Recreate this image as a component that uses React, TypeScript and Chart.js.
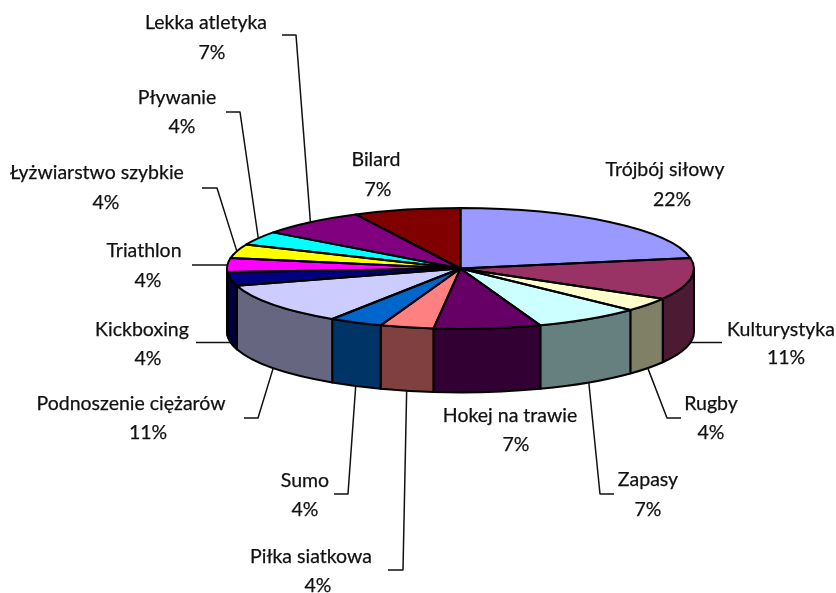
import React, { useEffect, useRef } from "react";
import { Chart, registerables } from "chart.js";

Chart.register(...registerables);

const categories = ["Trójbój siłowy", "Kulturystyka", "Rugby", "Zapasy", "Hokej na trawie", "Piłka siatkowa", "Sumo", "Podnoszenie ciężarów", "Kickboxing", "Triathlon", "Łyżwiarstwo szybkie", "Pływanie", "Lekka atletyka", "Bilard"];
const counts = [6, 3, 1, 2, 2, 1, 1, 3, 1, 1, 1, 1, 2, 2];
const percentLabels = ["22%", "11%", "4%", "7%", "7%", "4%", "4%", "11%", "4%", "4%", "4%", "4%", "7%", "7%"];
const topColors = ["#9999FF", "#993366", "#FFFFCC", "#CCFFFF", "#660066", "#FF8080", "#0066CC", "#CCCCFF", "#000080", "#FF00FF", "#FFFF00", "#00FFFF", "#800080", "#800000"];
const wallColors = ["#4D4D80", "#4D1A33", "#808066", "#668080", "#330033", "#804040", "#003366", "#666680", "#000040", "#000040", "#808000", "#008080", "#400040", "#400000"];

// Label placement: [name centre x, name y, percent centre x, percent y]
const labelPlaces = [
  [665, 170, 672, 200], [781, 330, 786, 358], [711, 404, 711, 433], [648, 480, 648, 510],
  [510, 416, 516, 445], [311, 557, 318, 586], [305, 481, 305, 510], [131, 404, 148, 433],
  [142, 330, 148, 359], [144, 251, 148, 281], [97, 173, 106, 203], [177, 98, 182, 127],
  [206, 23, 212, 53], [376, 160, 378, 190],
];
// Leader routing: list of bend points after the slice anchor, null when there is none
const leaderBends: (number[][] | null)[] = [
  null, [[722, 342.5]], [[667, 418], [681, 418]], [[600, 494], [614, 494]],
  null, [[403, 570], [388, 570]], [[348, 494], [334, 494]], [[258, 418], [244, 418]],
  [[196, 342.5]], [[192, 265]], [[217, 188], [202, 188]], [[240, 112], [226, 112]],
  [[296, 35], [282, 35]], null,
];

const CX = 460.5, CY = 268.5, RX = 233.5, RY = 60.5, DEPTH = 63.5;
const FONT = '19.5px Lato, "Open Sans", sans-serif';
const OUTLINE = 2;

const pie3d = {
  id: "pie3d",
  beforeDatasetsDraw(chart: any) {
    const ctx = chart.ctx;
    const arcs = chart.getDatasetMeta(0).data;
    const scale = RY / RX;
    ctx.save();
    ctx.lineWidth = OUTLINE;
    ctx.strokeStyle = "#000";
    ctx.lineJoin = "round";
    // side walls, only the part on the front half
    arcs.forEach((a: any, i: number) => {
      const s = Math.max(a.startAngle, 0);
      const e = Math.min(a.endAngle, Math.PI);
      if (e <= s) return;
      ctx.beginPath();
      ctx.ellipse(a.x, CY, a.outerRadius, a.outerRadius * scale, 0, s, e);
      ctx.ellipse(a.x, CY + DEPTH, a.outerRadius, a.outerRadius * scale, 0, e, s, true);
      ctx.closePath();
      ctx.fillStyle = wallColors[i];
      ctx.fill();
      ctx.stroke();
    });
    ctx.restore();
    // squash the library's own arcs into the tilted disc
    ctx.save();
    ctx.translate(0, CY);
    ctx.scale(1, scale);
    ctx.translate(0, -arcs[0].y);
  },
  afterDatasetsDraw(chart: any) {
    const ctx = chart.ctx;
    ctx.restore();
    const arcs = chart.getDatasetMeta(0).data;
    const scale = RY / RX;
    ctx.save();
    ctx.lineWidth = OUTLINE;
    ctx.strokeStyle = "#000";
    ctx.lineJoin = "round";
    arcs.forEach((a: any) => {
      ctx.beginPath();
      ctx.moveTo(a.x, CY);
      ctx.ellipse(a.x, CY, a.outerRadius, a.outerRadius * scale, 0, a.startAngle, a.endAngle);
      ctx.closePath();
      ctx.stroke();
    });
    // leaders
    ctx.lineWidth = 1.5;
    ctx.strokeStyle = "#111";
    arcs.forEach((a: any, i: number) => {
      const bends = leaderBends[i];
      if (!bends) return;
      const mid = (a.startAngle + a.endAngle) / 2;
      const x = a.x + a.outerRadius * Math.cos(mid);
      let y = CY + a.outerRadius * scale * Math.sin(mid);
      if (Math.sin(mid) > 0) y += DEPTH;
      ctx.beginPath();
      ctx.moveTo(x, y);
      bends.forEach((p) => ctx.lineTo(p[0], p[1]));
      ctx.stroke();
    });
    // labels
    ctx.font = FONT;
    ctx.fillStyle = "#111";
    ctx.strokeStyle = "#111";
    ctx.lineWidth = 0.25;
    ctx.textAlign = "center";
    ctx.textBaseline = "middle";
    const put = (t: string, x: number, y: number) => {
      ctx.fillText(t, x, y);
      ctx.strokeText(t, x, y);
    };
    categories.forEach((name, i) => {
      const p = labelPlaces[i];
      put(name, p[0], p[1]);
      put(percentLabels[i], p[2], p[3]);
    });
    ctx.restore();
  },
};

export default function App() {
  const ref = useRef<HTMLCanvasElement>(null);
  useEffect(() => {
    const chart = new Chart(ref.current as HTMLCanvasElement, {
      type: "pie",
      data: {
        labels: categories,
        datasets: [{ data: counts, backgroundColor: topColors, borderWidth: 0 }],
      },
      options: {
        responsive: false,
        animation: false,
        devicePixelRatio: 1,
        layout: { padding: { left: CX - RX, right: 836 - CX - RX, top: 20, bottom: 593 - 20 - 2 * RX } },
        plugins: { legend: { display: false }, tooltip: { enabled: false } },
      },
      plugins: [pie3d],
    } as any);
    return () => chart.destroy();
  }, []);
  return (
    <canvas
      ref={ref}
      width={836}
      height={593}
      style={{ position: "fixed", left: 0, top: 0, display: "block", background: "#fff" }}
    />
  );
}
